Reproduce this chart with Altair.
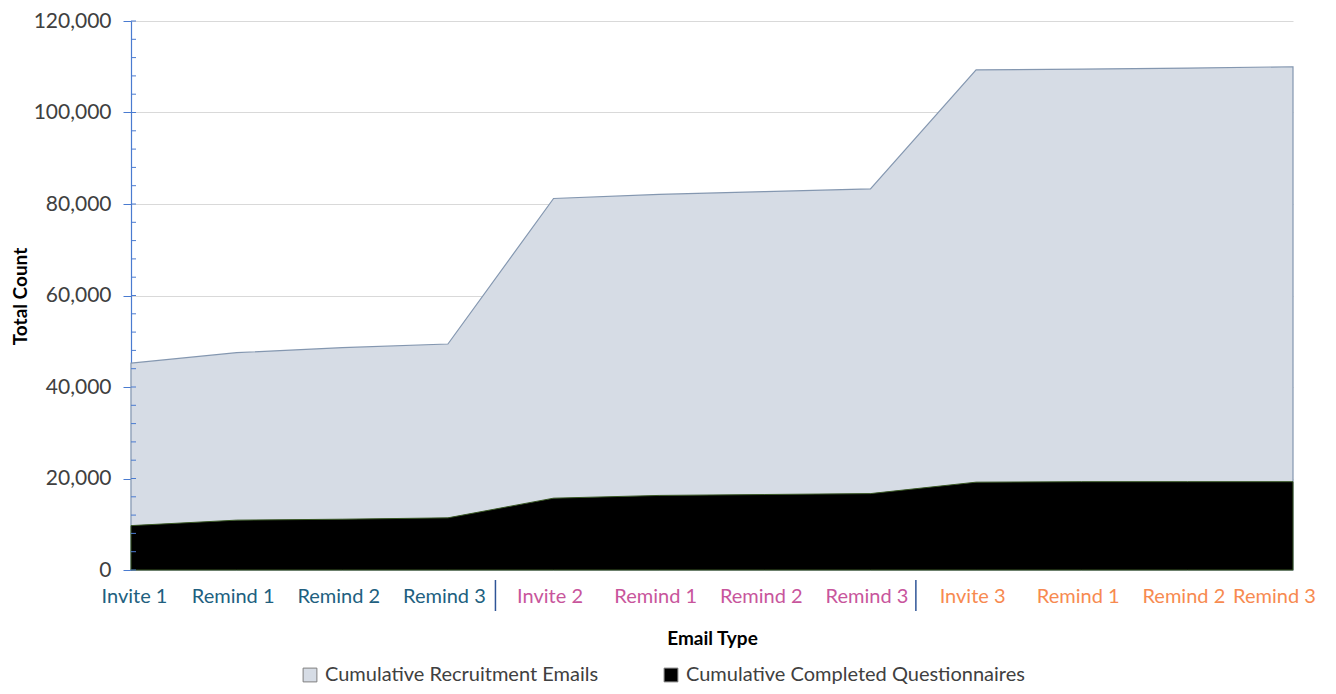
import altair as alt
import pandas as pd

labels = ["Invite 1", "Remind 1", "Remind 2", "Remind 3",
          "Invite 2", "Remind 1", "Remind 2", "Remind 3",
          "Invite 3", "Remind 1", "Remind 2", "Remind 3"]
recruitment = [45200, 47500, 48600, 49400, 81200, 82100, 82700, 83300,
               109300, 109500, 109700, 110000]
completed = [9700, 10900, 11100, 11400, 15700, 16300, 16500, 16700,
             19200, 19300, 19300, 19300]
series_names = ["Cumulative Recruitment Emails", "Cumulative Completed Questionnaires"]
series_colors = ["#D6DCE5", "#000000"]
group_separators = [3.45, 7.43]
minor_ticks = list(range(0, 120001, 4000))

W, H = 1162, 549
FONT = "Lato"

idx = list(range(len(labels)))
df_r = pd.DataFrame({"i": idx, "v": recruitment, "s": series_names[0]})
df_c = pd.DataFrame({"i": idx, "v": completed, "s": series_names[1]})

label_arr = "[" + ",".join("'%s'" % l for l in labels) + "]"

xscale = alt.Scale(domain=[0, len(labels) - 1], nice=False, zero=False)
yscale = alt.Scale(domain=[0, 120000], nice=False)
cscale = alt.Scale(domain=series_names, range=series_colors)

xaxis = alt.Axis(
    values=idx,
    labelExpr=label_arr + "[datum.value]",
    labelOverlap=False, labelFlush=False, labelBound=False,
    ticks=False, grid=False, domainColor="#BFBFBF", domainWidth=1,
    labelFont=FONT, labelFontSize=20, labelPadding=16,
    labelColor={"expr": "datum.value < 3.5 ? '#215F7F' : (datum.value < 7.5 ? '#C8559C' : '#F78A50')"},
    labelOffset={"expr": "datum.value == 0 ? 3 : (datum.value == 11 ? -19 : -4)"},
    title="Email Type", titleFont=FONT, titleFontSize=19, titleFontWeight="bold",
    titleColor="#000000", titleY=68, titleBaseline="middle",
)
yaxis = alt.Axis(
    values=list(range(0, 120001, 20000)),
    labelExpr="format(datum.value, ',')",
    labelOverlap=False, labelFlush=False,
    domainColor="#4A7BD0", tickColor="#4A7BD0", tickSize=8,
    gridColor="#D9D9D9", grid=True,
    labelFont=FONT, labelFontSize=21, labelColor="#404040", labelPadding=12,
    title="Total Count", titleFont=FONT, titleFontSize=19, titleFontWeight="bold",
    titleColor="#000000", titleX=-111, titleY=275, titleAngle=-90,
    titleAlign="center", titleBaseline="middle",
)

legend = alt.Legend(
    orient="none", legendX=169, legendY=644, direction="horizontal",
    title=None, symbolType="square", symbolSize=190,
    symbolStrokeColor="#7F7F7F", symbolStrokeWidth=1,
    labelFont=FONT, labelFontSize=20, labelColor="#404040",
    labelLimit=0, columnPadding=62, labelOffset=5, padding=0,
)

area_r = alt.Chart(df_r).mark_area(stroke="#8497B0", strokeWidth=1.2, opacity=1).encode(
    x=alt.X("i:Q", scale=xscale, axis=xaxis),
    y=alt.Y("v:Q", scale=yscale, axis=yaxis, stack=None),
    color=alt.Color("s:N", scale=cscale, legend=legend),
)
area_c = alt.Chart(df_c).mark_area(stroke="#385723", strokeWidth=1, opacity=1).encode(
    x=alt.X("i:Q", scale=xscale),
    y=alt.Y("v:Q", scale=yscale, stack=None),
    color=alt.Color("s:N", scale=cscale, legend=legend),
)
minor = alt.Chart(pd.DataFrame({"t": minor_ticks})).mark_rule(
    color="#4A7BD0", strokeWidth=1
).encode(
    y=alt.Y("t:Q", scale=yscale),
    x=alt.value(0), x2=alt.value(5),
)
seps = alt.Chart(pd.DataFrame({"p": group_separators})).mark_rule(
    color="#2F5597", strokeWidth=1.5
).encode(
    x=alt.X("p:Q", scale=xscale),
    y=alt.value(H + 10), y2=alt.value(H + 41),
)

chart = alt.layer(area_r, area_c, minor, seps).properties(
    width=W, height=H,
    autosize=alt.AutoSizeParams(type="none"),
    padding={"left": 123, "top": 13, "right": 35, "bottom": 116},
).configure_view(stroke=None).configure_axis(domainWidth=1.2)

chart.save("out.html", embed_options={"renderer": "svg", "actions": False})
